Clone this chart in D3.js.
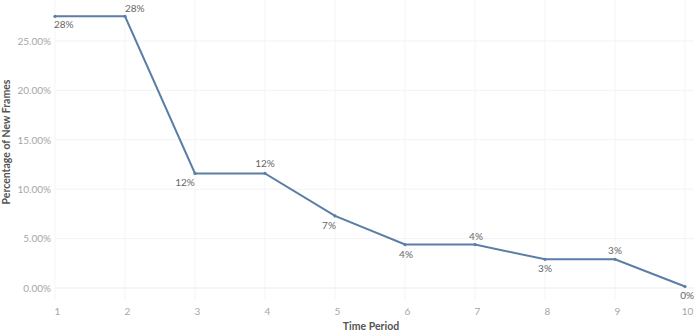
<!DOCTYPE html>
<html><head><meta charset="utf-8">
<script src="https://cdn.jsdelivr.net/npm/d3@7"></script>
<style>body{margin:0;background:#fff}svg{display:block}text{font-family:Lato,"Open Sans",sans-serif}</style>
</head><body>
<svg id="c" width="694" height="332"></svg>
<script>
const periods = [1,2,3,4,5,6,7,8,9,10];
const values = [27.5,27.5,11.6,11.6,7.3,4.4,4.4,2.9,2.9,0.15];
const labels = ["28%","28%","12%","12%","7%","4%","4%","3%","3%","0%"];
const yTicks = [0,5,10,15,20,25];
const yTickLabels = ["0.00%","5.00%","10.00%","15.00%","20.00%","25.00%"];

const svg = d3.select("#c");
const x = d3.scaleLinear().domain([1,10]).range([55,685]);
const y = d3.scaleLinear().domain([0,25]).range([288,41]);

// gridlines
svg.append("g").selectAll("line").data(yTicks).join("line")
  .attr("x1",55).attr("x2",694).attr("y1",d=>y(d)).attr("y2",d=>y(d))
  .attr("stroke",d=>d===0?"#ebebeb":"#f3f3f3").attr("stroke-width",1);
svg.append("g").selectAll("line").data(periods).join("line")
  .attr("x1",d=>x(d)).attr("x2",d=>x(d)).attr("y1",0).attr("y2",300)
  .attr("stroke","#f5f5f5").attr("stroke-width",1);

// y axis
const yAxis = d3.axisLeft(y).tickValues(yTicks).tickFormat((d,i)=>yTickLabels[i]).tickSize(0).tickPadding(0);
const gy = svg.append("g").attr("transform","translate(51,0)").call(yAxis);
gy.select(".domain").remove();
gy.selectAll("text").attr("fill","#a6a6a6").style("font-size","10px").style("font-family","Lato,sans-serif");

// x axis
const xAxis = d3.axisBottom(x).tickValues(periods).tickFormat(d3.format("d")).tickSize(0).tickPadding(0);
const gx = svg.append("g").attr("transform","translate(2,308)").call(xAxis);
gx.select(".domain").remove();
gx.selectAll("text").attr("fill","#a6a6a6").style("font-size","10px").style("font-family","Lato,sans-serif");

// axis titles
svg.append("text").attr("transform","translate(10,142) rotate(-90)").attr("text-anchor","middle")
  .attr("fill","#555").style("font-size","10.5px").style("font-weight","bold").text("Percentage of New Frames");
svg.append("text").attr("x",371).attr("y",330).attr("text-anchor","middle")
  .attr("fill","#555").style("font-size","10.5px").style("font-weight","bold").text("Time Period");

// line
const data = periods.map((p,i)=>({p, v: values[i], l: labels[i]}));
svg.append("path").datum(data)
  .attr("fill","none").attr("stroke","#5a7ea6").attr("stroke-width",2)
  .attr("d", d3.line().x(d=>x(d.p)).y(d=>y(d.v)));
svg.append("g").selectAll("circle").data(data).join("circle")
  .attr("cx",d=>x(d.p)).attr("cy",d=>y(d.v)).attr("r",1.6).attr("fill","#5a7ea6");

// labels: placement per point (below / above)
const place = [
  {dx:-1, dy:12, a:"start"},
  {dx:0, dy:-4, a:"start"},
  {dx:-10, dy:13, a:"middle"},
  {dx:0, dy:-6, a:"middle"},
  {dx:-6, dy:13, a:"middle"},
  {dx:1, dy:13, a:"middle"},
  {dx:1, dy:-5, a:"middle"},
  {dx:0, dy:13, a:"middle"},
  {dx:0, dy:-5, a:"middle"},
  {dx:9, dy:12, a:"end"}
];
svg.append("g").selectAll("text").data(data).join("text")
  .attr("x",(d,i)=>x(d.p)+place[i].dx).attr("y",(d,i)=>y(d.v)+place[i].dy)
  .attr("text-anchor",(d,i)=>place[i].a)
  .attr("fill","#666").style("font-size","10px").text(d=>d.l);
</script>
</body></html>
